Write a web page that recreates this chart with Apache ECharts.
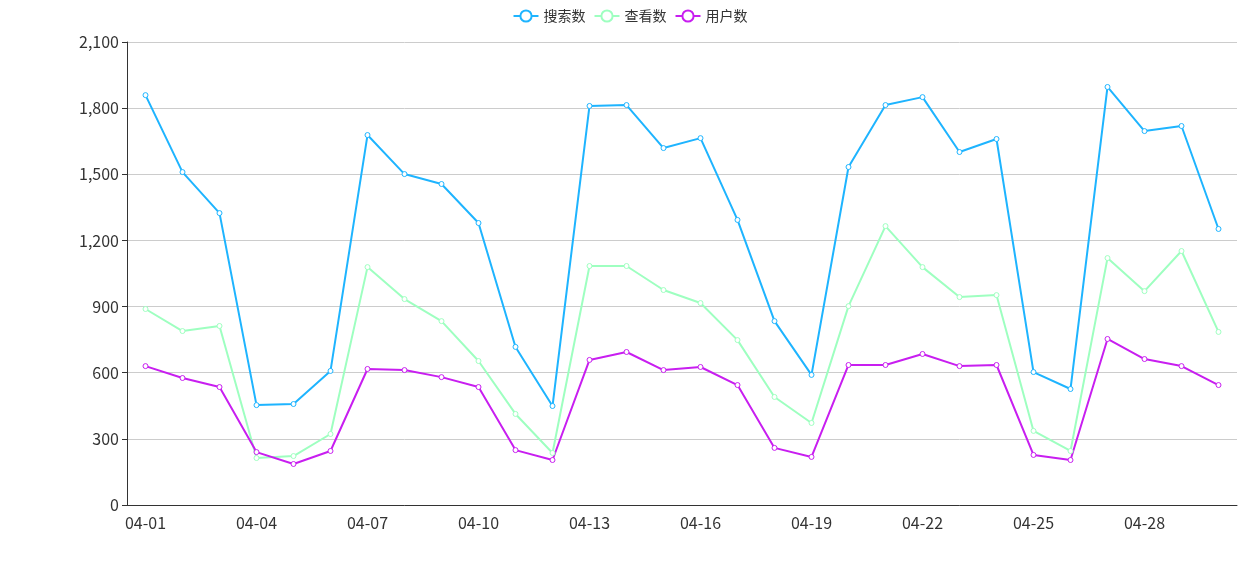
<!DOCTYPE html>
<html>
<head>
<meta charset="utf-8">
<script src="https://cdn.jsdelivr.net/npm/echarts@6/dist/echarts.min.js"></script>
<style>html,body{margin:0;padding:0;background:#fff}#main{width:1260px;height:561px}</style>
</head>
<body>
<div id="main"></div>
<script>
// 日期
var days = [];
for (var d = 1; d <= 30; d++) days.push('04-' + (d < 10 ? '0' + d : d));

var searchData = [1859, 1510, 1324, 453, 458, 608, 1678, 1501, 1456, 1279, 717, 449, 1810, 1814, 1619,
  1664, 1293, 834, 590, 1533, 1814, 1850, 1601, 1660, 603, 526, 1896, 1696, 1719, 1252];
var viewData = [889, 789, 812, 213, 222, 322, 1079, 934, 834, 653, 413, 236, 1084, 1084, 975,
  916, 748, 490, 372, 902, 1265, 1079, 943, 952, 336, 245, 1120, 970, 1152, 785];
var userData = [630, 576, 535, 240, 186, 245, 617, 612, 580, 535, 249, 204, 658, 694, 612,
  626, 544, 259, 218, 635, 635, 685, 630, 635, 227, 204, 753, 662, 630, 544];

var font = 'Noto Sans CJK SC';

function mk(name, data, color) {
  return {
    name: name, type: 'line', data: data,
    symbol: 'circle', symbolSize: 5, showAllSymbol: true,
    itemStyle: { color: '#fff', borderColor: color, borderWidth: 1 },
    lineStyle: { color: color, width: 2 }
  };
}

var chart = echarts.init(document.getElementById('main'));
chart.setOption({
  animation: false,
  textStyle: { fontFamily: font },
  legend: {
    top: 4, itemWidth: 25, itemHeight: 14,
    textStyle: { fontSize: 14, color: '#333', fontFamily: font },
    data: [
      { name: '搜索数', itemStyle: { color: '#fff', borderColor: '#1eb4ff' } },
      { name: '查看数', itemStyle: { color: '#fff', borderColor: '#9effc0' } },
      { name: '用户数', itemStyle: { color: '#fff', borderColor: '#c81ef0' } }
    ]
  },
  grid: { left: 127, right: 23, top: 42, bottom: 56 },
  xAxis: {
    type: 'category', data: days, boundaryGap: true,
    axisLine: { lineStyle: { color: '#333' } },
    axisTick: { interval: 0, lineStyle: { color: '#333' } },
    axisLabel: { interval: 2, fontSize: 16, color: '#333', margin: 10 }
  },
  yAxis: {
    type: 'value', min: 0, max: 2100, interval: 300,
    axisLine: { show: true, lineStyle: { color: '#333' } },
    axisTick: { show: true, lineStyle: { color: '#333' } },
    axisLabel: { fontSize: 16, color: '#333' },
    splitLine: { lineStyle: { color: '#ccc' } }
  },
  series: [
    mk('搜索数', searchData, '#1eb4ff'),
    mk('查看数', viewData, '#9effc0'),
    mk('用户数', userData, '#c81ef0')
  ]
});
</script>
</body>
</html>
